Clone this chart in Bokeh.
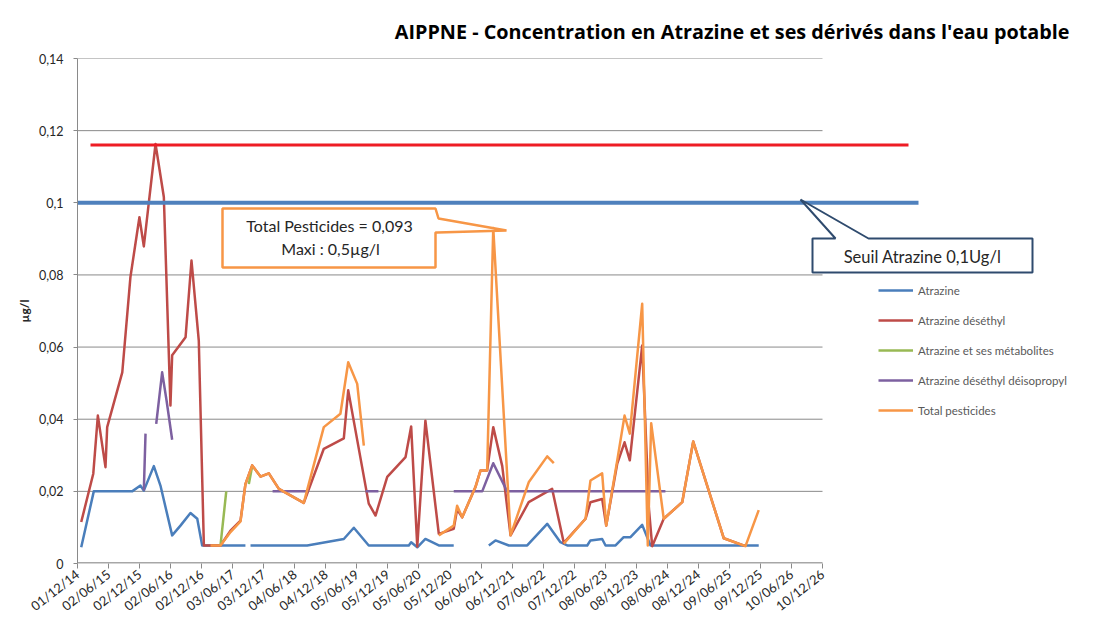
from bokeh.plotting import figure
from bokeh.models import FixedTicker, CustomJSTickFormatter, Legend, LegendItem
from bokeh.core.properties import value
from bokeh.embed import file_html
from bokeh.resources import INLINE

NaN = float("nan")

# ---------------- data ----------------
# x : days since 01/12/2014 (date axis, one tick every 183 days)
x_tick_step = 183
x_tick_labels = ["01/12/14", "02/06/15", "02/12/15", "02/06/16", "02/12/16", "03/06/17",
                 "03/12/17", "04/06/18", "04/12/18", "05/06/19", "05/12/19", "05/06/20",
                 "05/12/20", "06/06/21", "06/12/21", "07/06/22", "07/12/22", "08/06/23",
                 "08/12/23", "08/06/24", "08/12/24", "09/06/25", "09/12/25", "10/06/26",
                 "10/12/26"]
y_ticks = [0, 0.02, 0.04, 0.06, 0.08, 0.10, 0.12, 0.14]
y_tick_labels = ["0", "0,02", "0,04", "0,06", "0,08", "0,1", "0,12", "0,14"]

atrazine_j = [22, 96, 322, 371, 391, 450, 489, 558, 607, 666, 706, 735, 990, NaN,
              1020, 1354, 1570, 1629, 1717, 1953, 1967, 2003, 2051, 2130, 2218, NaN,
              2425, 2464, 2543, 2651, 2769, 2847, 2887, 3005, 3024, 3093, 3113, 3172,
              3220, 3260, 3329, 3378, 4016]
atrazine_v = [0.0045, 0.020, 0.020, 0.0216, 0.0202, 0.027, 0.0216, 0.0078, 0.0105, 0.014,
              0.0124, 0.005, 0.005, NaN,
              0.005, 0.005, 0.0068, 0.0099, 0.005, 0.005, 0.0059, 0.0045, 0.0068, 0.005,
              0.005, NaN,
              0.005, 0.0064, 0.005, 0.005, 0.011, 0.0059, 0.005, 0.005, 0.0064, 0.0068,
              0.005, 0.005, 0.0073, 0.0073, 0.0107, 0.005, 0.005]

deseth_j = [22, 93, 120, 165, 175, 264, 312, 365, 391, 460, 509, 548, 558, 637, 672, 715,
            745, 843, 902, 961, 990, 1030, 1079, 1128, 1187, 1334, 1452, 1570, 1596, 1717,
            1757, 1826, 1934, 1967, 2003, 2051, 2130, 2218, 2238, 2268, 2346, 2376, 2415,
            2451, 2504, 2553, 2660, 2798, 2867, 2995, 3024, 3093, 3117, 3182, 3225, 3256,
            3329, 3368, 3388, 3456, 3565, 3630, 3810, 3938]
deseth_v = [0.0115, 0.0249, 0.041, 0.0267, 0.0378, 0.053, 0.0794, 0.096, 0.0879, 0.1163,
            0.1016, 0.0438, 0.0577, 0.0627, 0.084, 0.0618,
            0.005, 0.005, 0.0091, 0.0119, 0.022, 0.0272, 0.0241, 0.025, 0.0207, 0.0168,
            0.0318, 0.0347, 0.048, 0.0166,
            0.0133, 0.024, 0.0295, 0.038, 0.0047, 0.0396, 0.0082, 0.0096, 0.015, 0.0128,
            0.0212, 0.0258, 0.0258,
            0.0378, 0.027, 0.0078, 0.017, 0.0207, 0.0057, 0.0124, 0.017, 0.0179, 0.0105,
            0.0277, 0.0336, 0.0286,
            0.0604, 0.0156, 0.0048, 0.0124, 0.017, 0.0338, 0.007, 0.0048]

metab_j = [843, 877, NaN, 1010, 1030]
metab_v = [0.005, 0.020, NaN, 0.022, 0.027]

deisop_j = [391, 401, NaN, 464, 499, 525, 558, NaN, 1150, 1362, NaN, 1698, 1774, NaN,
            2218, 2386, 2451, 2533, 3466]
deisop_v = [0.0202, 0.036, NaN, 0.0387, 0.053, 0.0452, 0.0343, NaN, 0.02, 0.02, NaN,
            0.02, 0.02, NaN,
            0.02, 0.02, 0.0278, 0.02, 0.02]

total_j = [784, 843, 902, 961, 990, 1030, 1079, 1128, 1187, 1334, 1452, 1550, 1596, 1649,
           1688, NaN,
           2130, 2218, 2238, 2268, 2346, 2376, 2415, 2451, 2553, 2660, 2769, 2808, NaN,
           2867, 2995, 3024, 3093, 3117, 3182, 3225, 3256, 3329, 3362, 3382, 3456, 3565,
           3630, 3810, 3938, 4016]
total_v = [0.005, 0.005, 0.0087, 0.0117, 0.022, 0.0272, 0.0241, 0.025, 0.0207, 0.0168,
           0.0378, 0.0415, 0.0558, 0.0498, 0.0327, NaN,
           0.0078, 0.0105, 0.016, 0.0128, 0.0212, 0.0258, 0.0258, 0.093, 0.0078, 0.0225,
           0.0297, 0.0278, NaN,
           0.0055, 0.0124, 0.023, 0.025, 0.0105, 0.0286, 0.041, 0.036, 0.072, 0.005,
           0.0389, 0.0124, 0.017, 0.0338, 0.007, 0.0048, 0.0148]

seuil_atrazine = 0.1
max_mesure = 0.116

series_names = ["Atrazine", "Atrazine déséthyl", "Atrazine et ses métabolites",
                "Atrazine déséthyl déisopropyl", "Total pesticides"]
series_colors = ["#4A7EBB", "#BE4B48", "#98B954", "#7D60A0", "#F79646"]

# ---------------- layout helpers (page pixels -> data) ----------------
W, H = 1085, 628
ML, MT, MB = 77, 58, 65
FRAME_L, FRAME_T, FRAME_B, FRAME_R = ML, MT, H - MB, W
AXIS_END_PX = 822  # page x of the last tick
days_per_px = x_tick_step * (len(x_tick_labels) - 1) / (AXIS_END_PX - FRAME_L)
X_END = (FRAME_R - FRAME_L) * days_per_px
val_per_px = 0.14 / (FRAME_B - FRAME_T)


def dx(px):
    return (px - FRAME_L) * days_per_px


def dy(py):
    return (FRAME_B - py) * val_per_px


FONT = "Lato"

p = figure(width=W, height=H, x_range=(0, X_END), y_range=(0, 0.14),
           output_backend="svg", toolbar_location=None,
           min_border_left=ML, min_border_right=0, min_border_top=MT, min_border_bottom=MB)
p.outline_line_color = None
p.xgrid.visible = False
p.ygrid.visible = False

# title
p.title.text = "AIPPNE - Concentration en Atrazine et ses dérivés dans l'eau potable"
p.title.align = "right"
p.title.offset = 16
p.title.text_font = "Open Sans"
p.title.text_font_size = "19.8px"
p.title.text_font_style = "bold"
p.title.text_color = "#000000"
p.title.standoff = 27

# grid lines (limited to the axis extent)
x_last = x_tick_step * (len(x_tick_labels) - 1)
p.segment(x0=[0] * 7, x1=[x_last] * 7, y0=y_ticks[1:], y1=y_ticks[1:],
          line_color="#8A8A8A", line_width=1)
p.segment(x0=[0], x1=[x_last], y0=[0.00015], y1=[0.00015], line_color="#8A8A8A", line_width=1.5)

# axes
p.xaxis.ticker = FixedTicker(ticks=[i * x_tick_step for i in range(len(x_tick_labels))])
p.xaxis.formatter = CustomJSTickFormatter(args=dict(xlabs=x_tick_labels, xstep=x_tick_step), code="""
const i = Math.round(tick / xstep);
return (i >= 0 && i < xlabs.length) ? xlabs[i] : "";
""")
p.xaxis.major_label_orientation = 0.66
p.xaxis.axis_line_color = None
p.xaxis.major_tick_in = 0
p.xaxis.major_tick_out = 5
p.xaxis.major_tick_line_color = "#8A8A8A"
p.xaxis.minor_tick_line_color = None
p.xaxis.major_label_text_font = FONT
p.xaxis.major_label_text_font_size = "13px"
p.xaxis.major_label_text_color = "#262626"
p.xaxis.major_label_standoff = 4

p.yaxis.ticker = FixedTicker(ticks=y_ticks)
p.yaxis.formatter = CustomJSTickFormatter(args=dict(yvals=y_ticks, ylabs=y_tick_labels), code="""
let best = 0, d = Infinity;
for (let i = 0; i < yvals.length; i++) { const e = Math.abs(yvals[i] - tick); if (e < d) { d = e; best = i; } }
return ylabs[best];
""")
p.yaxis.axis_label = "µg/l"
p.yaxis.axis_label_text_font = FONT
p.yaxis.axis_label_text_font_size = "12px"
p.yaxis.axis_label_text_font_style = "bold"
p.yaxis.axis_label_text_color = "#262626"
p.yaxis.axis_label_standoff = 4
p.yaxis.axis_line_color = "#8A8A8A"
p.yaxis.major_tick_in = 0
p.yaxis.major_tick_out = 4
p.yaxis.major_tick_line_color = "#8A8A8A"
p.yaxis.minor_tick_line_color = None
p.yaxis.major_label_text_font = FONT
p.yaxis.major_label_text_font_size = "12.5px"
p.yaxis.major_label_text_color = "#262626"
p.yaxis.major_label_standoff = 10

# series
data = [(atrazine_j, atrazine_v), (deseth_j, deseth_v), (metab_j, metab_v),
        (deisop_j, deisop_v), (total_j, total_v)]
renderers = []
for (xs, ys), c in zip(data, series_colors):
    r = p.line(xs, ys, line_color=c, line_width=2.5, line_join="round")
    renderers.append(r)

# reference lines
p.line([dx(90), dx(908)], [max_mesure, max_mesure], line_color="#EE1C25", line_width=3)
p.line([dx(75), dx(918)], [seuil_atrazine, seuil_atrazine], line_color="#4F81BD", line_width=4)

# callout: Total Pesticides
cx = [222, 435, 438, 506, 437, 435, 435, 222]
cy = [208, 208, 218, 230, 232, 232, 267, 267]
p.patch([dx(v) for v in cx], [dy(v) for v in cy], fill_color="white",
        line_color="#F79646", line_width=2.5)
p.text(x=[dx(329), dx(330)], y=[dy(225), dy(248)],
       text=["Total Pesticides = 0,093", "Maxi : 0,5µg/l"],
       text_font=value(FONT), text_font_size="16px", text_color="#262626",
       text_align="center", text_baseline="middle")

# callout: Seuil Atrazine
sx = [812, 835, 800, 868, 1032, 1032, 812]
sy = [238, 238, 199, 238, 238, 272, 272]
p.patch([dx(v) for v in sx], [dy(v) for v in sy], fill_color="white",
        line_color="#2F4B6E", line_width=2)
p.text(x=[dx(922)], y=[dy(256)], text=["Seuil Atrazine 0,1Ug/l"],
       text_font=value(FONT), text_font_size="16.5px", text_color="#262626",
       text_align="center", text_baseline="middle")

# legend
legend = Legend(items=[LegendItem(label=n, renderers=[r]) for n, r in zip(series_names, renderers)],
                location=(878 - FRAME_L, FRAME_B - 420))
legend.padding = 0
legend.margin = 0
legend.spacing = 10
legend.glyph_height = 20
legend.label_height = 20
legend.glyph_width = 35
legend.label_standoff = 5
legend.label_text_font = FONT
legend.label_text_font_size = "11.5px"
legend.label_text_color = "#595959"
legend.background_fill_alpha = 0
legend.border_line_color = None
p.add_layout(legend)

open("out.html", "w").write(file_html(p, INLINE))
